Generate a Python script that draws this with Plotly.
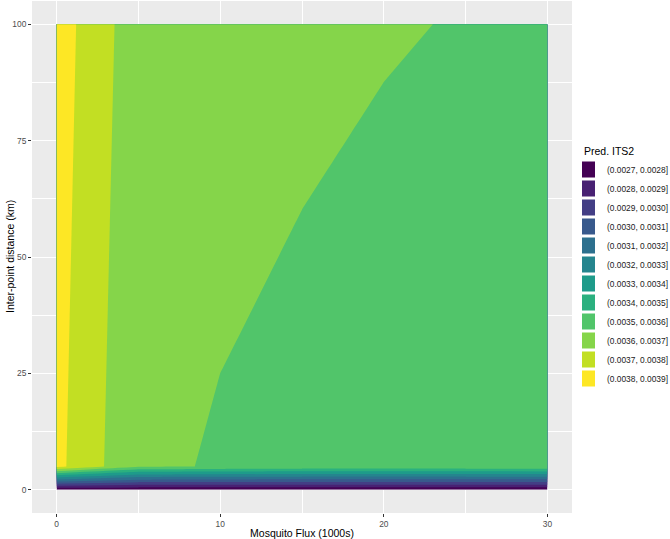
import plotly.graph_objects as go

# ---- data ----
flux_1000s = [0, 5, 10, 15, 20, 25, 30]
distance_km = [0, 5, 100]
its2_at_0km = [0.00271, 0.00271, 0.00271, 0.00271, 0.00271, 0.00271, 0.00271]
its2_at_5km = [0.003826, 0.003609, 0.003596, 0.003582, 0.003580, 0.003582, 0.003585]
its2_at_100km = [0.003851, 0.003638, 0.003615, 0.003613, 0.003603, 0.003598, 0.003590]

bin_labels = [
    "(0.0027, 0.0028]", "(0.0028, 0.0029]", "(0.0029, 0.0030]", "(0.0030, 0.0031]",
    "(0.0031, 0.0032]", "(0.0032, 0.0033]", "(0.0033, 0.0034]", "(0.0034, 0.0035]",
    "(0.0035, 0.0036]", "(0.0036, 0.0037]", "(0.0037, 0.0038]", "(0.0038, 0.0039]",
]
bin_colors = [
    "#440154", "#482173", "#433E85", "#38598C", "#2D708E", "#25858E",
    "#1E9B8A", "#2BB07F", "#51C56A", "#85D54A", "#C2DF23", "#FDE725",
]
x_ticks = [0, 10, 20, 30]
y_ticks = [0, 25, 50, 75, 100]

FONT = "Liberation Sans, Arial, Helvetica, sans-serif"

fig = go.Figure()

n = len(bin_colors)
fig.add_trace(go.Contour(
    x=flux_1000s,
    y=distance_km,
    z=[its2_at_0km, its2_at_5km, its2_at_100km],
    autocontour=False,
    contours=dict(start=0.0028, end=0.0038, size=0.0001,
                  coloring="fill", showlines=False),
    line=dict(width=0, smoothing=0),
    colorscale=[[i / (n - 1), c] for i, c in enumerate(bin_colors)],
    showscale=False,
    showlegend=False,
    hoverinfo="skip",
))

for lab, col in zip(bin_labels, bin_colors):
    fig.add_trace(go.Scatter(
        x=[None], y=[None], mode="markers", name=lab,
        marker=dict(symbol="square", size=16, color=col, line=dict(width=0)),
        showlegend=True,
    ))

fig.update_layout(
    width=670, height=539,
    margin=dict(l=32, r=98, t=1, b=26, autoexpand=False),
    paper_bgcolor="white",
    plot_bgcolor="#EBEBEB",
    font=dict(family=FONT, size=9, color="#4D4D4D"),
    legend=dict(
        title=dict(text="Pred. ITS2", font=dict(size=10.5, color="#000000", family=FONT), side="top"),
        font=dict(size=8.4, color="#1A1A1A", family=FONT),
        x=(582 - 32) / 540, xanchor="left", y=0.48, yanchor="middle",
        indentation=-15,
        bgcolor="rgba(0,0,0,0)", tracegroupgap=0, itemsizing="trace",
    ),
    xaxis=dict(
        range=[-1.5, 31.5], tickvals=x_ticks, ticktext=[str(v) for v in x_ticks],
        showgrid=True, gridcolor="white", gridwidth=1.1,
        minor=dict(dtick=5, tick0=0, showgrid=True, gridcolor="white", gridwidth=0.55, ticks=""),
        ticks="outside", ticklen=3, tickwidth=1, tickcolor="#333333",
        tickfont=dict(size=8.4, color="#4D4D4D", family=FONT),
        zeroline=False, showline=False,
        title=dict(text="Mosquito Flux (1000s)", font=dict(size=10.5, color="#000000", family=FONT), standoff=8),
        automargin=False,
    ),
    yaxis=dict(
        range=[-5, 105], tickvals=y_ticks, ticktext=[str(v) for v in y_ticks],
        showgrid=True, gridcolor="white", gridwidth=1.1,
        minor=dict(dtick=12.5, tick0=0, showgrid=True, gridcolor="white", gridwidth=0.55, ticks=""),
        ticks="outside", ticklen=3, tickwidth=1, tickcolor="#333333",
        tickfont=dict(size=8.4, color="#4D4D4D", family=FONT),
        zeroline=False, showline=False,
        automargin=False,
    ),
    annotations=[dict(
        text="Inter-point distance (km)", textangle=-90,
        xref="paper", yref="paper", x=(10 - 32) / 540, y=0.5,
        xanchor="center", yanchor="middle", showarrow=False,
        font=dict(size=10.5, color="#000000", family=FONT),
    )],
)

fig.write_html(
    "out.html",
    config={"displayModeBar": False},
    post_script="document.body.style.margin='0px';document.body.style.overflow='hidden';",
)
